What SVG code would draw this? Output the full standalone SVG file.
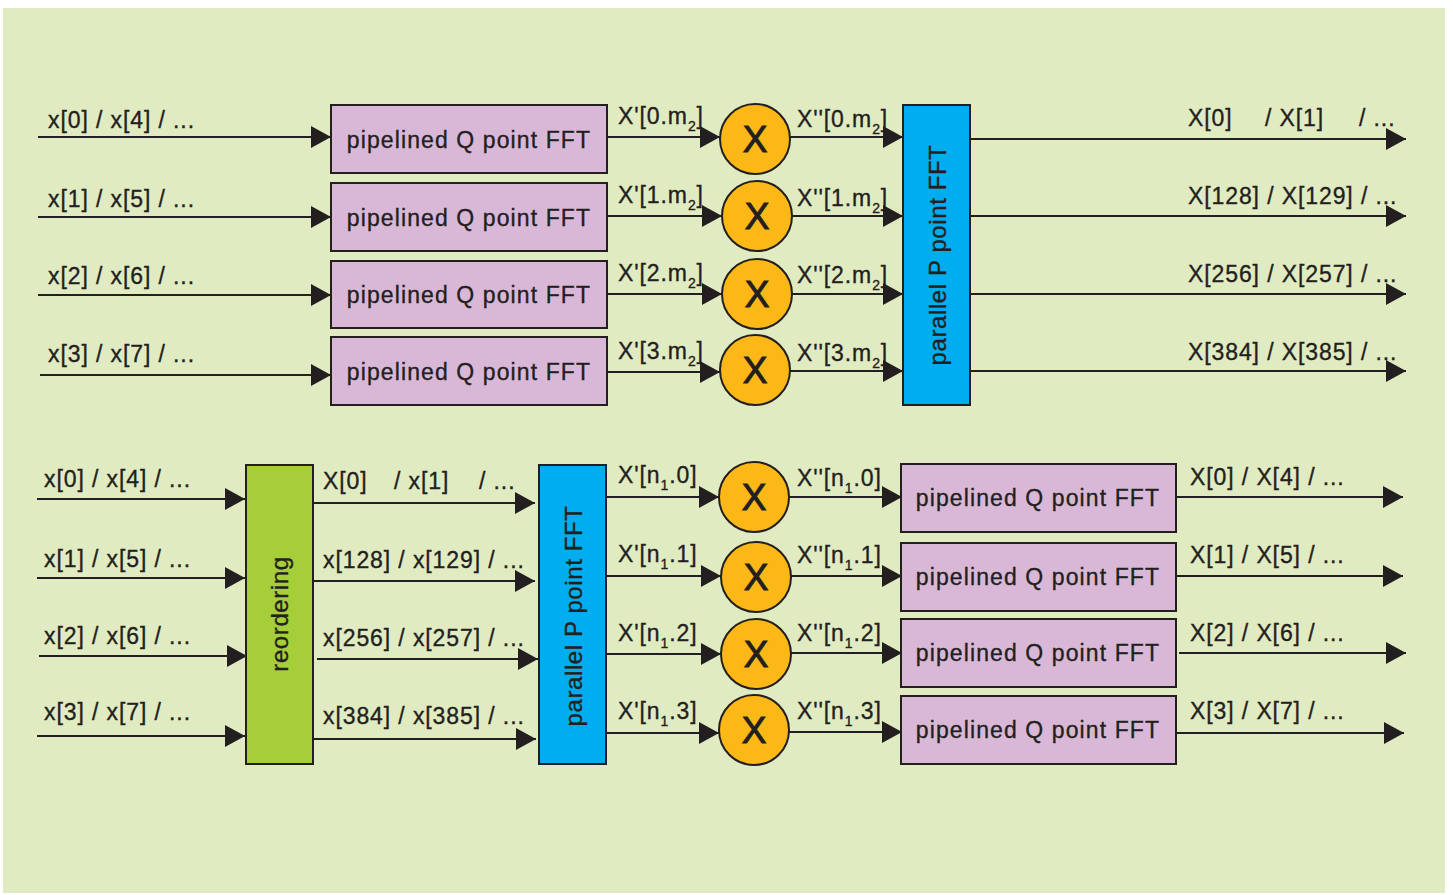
<svg xmlns="http://www.w3.org/2000/svg" width="1453" height="895" viewBox="0 0 1453 895">
<defs>
<marker id="ah" markerUnits="userSpaceOnUse" markerWidth="22" markerHeight="24" refX="20" refY="11" orient="auto">
<path d="M0,0 L20,11 L0,22 Z" fill="#231f20"/>
</marker>
<style>
.ln{stroke:#231f20;stroke-width:2.2;fill:none;marker-end:url(#ah)}
.lb{font-family:"Liberation Sans",Arial,sans-serif;font-size:23px;letter-spacing:0.9px;fill:#231f20;stroke:#231f20;stroke-width:0.35px}
.sub{font-size:14px}
.pk{fill:#d9b8d7;stroke:#231f20;stroke-width:2}
.bl{fill:#00aeef;stroke:#231f20;stroke-width:2}
.gr{fill:#a6ce39;stroke:#231f20;stroke-width:2}
.ci{fill:#fbb817;stroke:#231f20;stroke-width:2}
.bt{font-family:"Liberation Sans",Arial,sans-serif;font-size:23px;letter-spacing:1.1px;fill:#231f20;stroke:#231f20;stroke-width:0.35px;text-anchor:middle}
.vt{font-family:"Liberation Sans",Arial,sans-serif;font-size:24px;letter-spacing:0.6px;fill:#231f20;stroke:#231f20;stroke-width:0.35px;text-anchor:middle}
.xt{font-family:"Liberation Sans",Arial,sans-serif;font-size:37px;fill:#231f20;stroke:#231f20;stroke-width:1px;text-anchor:middle}
</style>
</defs>
<rect x="3" y="8" width="1442" height="885" fill="#e1ebc2"/>

<g id="connectors">
<line class="ln" x1="38" y1="137" x2="331" y2="137"/>
<line class="ln" x1="38" y1="217" x2="331" y2="217"/>
<line class="ln" x1="38" y1="295" x2="331" y2="295"/>
<line class="ln" x1="40" y1="375" x2="331" y2="375"/>
<line class="ln" x1="607" y1="137" x2="720" y2="137"/>
<line class="ln" x1="607" y1="216" x2="722" y2="216"/>
<line class="ln" x1="607" y1="294" x2="722" y2="294"/>
<line class="ln" x1="607" y1="372" x2="720" y2="372"/>
<line class="ln" x1="790" y1="137" x2="903" y2="137"/>
<line class="ln" x1="792" y1="216" x2="903" y2="216"/>
<line class="ln" x1="792" y1="294" x2="903" y2="294"/>
<line class="ln" x1="790" y1="371" x2="903" y2="371"/>
<line class="ln" x1="970" y1="139" x2="1406" y2="139"/>
<line class="ln" x1="970" y1="216" x2="1406" y2="216"/>
<line class="ln" x1="970" y1="294" x2="1406" y2="294"/>
<line class="ln" x1="970" y1="371" x2="1406" y2="371"/>
<line class="ln" x1="37" y1="499" x2="245" y2="499"/>
<line class="ln" x1="37" y1="578" x2="245" y2="578"/>
<line class="ln" x1="39" y1="656" x2="247" y2="656"/>
<line class="ln" x1="37" y1="736" x2="245" y2="736"/>
<line class="ln" x1="313" y1="503" x2="535" y2="503"/>
<line class="ln" x1="313" y1="581" x2="535" y2="581"/>
<line class="ln" x1="317" y1="659" x2="538" y2="659"/>
<line class="ln" x1="313" y1="739" x2="536" y2="739"/>
<line class="ln" x1="606" y1="497" x2="719" y2="497"/>
<line class="ln" x1="606" y1="576" x2="721" y2="576"/>
<line class="ln" x1="606" y1="654" x2="721" y2="654"/>
<line class="ln" x1="606" y1="733" x2="719" y2="733"/>
<line class="ln" x1="789" y1="497" x2="902" y2="497"/>
<line class="ln" x1="791" y1="576" x2="902" y2="576"/>
<line class="ln" x1="791" y1="653" x2="902" y2="653"/>
<line class="ln" x1="789" y1="732" x2="902" y2="732"/>
<line class="ln" x1="1176" y1="497" x2="1403" y2="497"/>
<line class="ln" x1="1176" y1="576" x2="1403" y2="576"/>
<line class="ln" x1="1179" y1="653" x2="1406" y2="653"/>
<line class="ln" x1="1176" y1="733" x2="1404" y2="733"/>
</g>

<g id="labels">
<text class="lb" x="48" y="128">x[0] / x[4] / ...</text>
<text class="lb" x="48" y="207">x[1] / x[5] / ...</text>
<text class="lb" x="48" y="284">x[2] / x[6] / ...</text>
<text class="lb" x="48" y="362">x[3] / x[7] / ...</text>

<text class="lb" x="618" y="124">X'[0.m<tspan class="sub" dy="7">2</tspan><tspan dy="-7">]</tspan></text>
<text class="lb" x="618" y="203">X'[1.m<tspan class="sub" dy="7">2</tspan><tspan dy="-7">]</tspan></text>
<text class="lb" x="618" y="281">X'[2.m<tspan class="sub" dy="7">2</tspan><tspan dy="-7">]</tspan></text>
<text class="lb" x="618" y="359">X'[3.m<tspan class="sub" dy="7">2</tspan><tspan dy="-7">]</tspan></text>

<text class="lb" x="797" y="127">X''[0.m<tspan class="sub" dy="7">2</tspan><tspan dy="-7">]</tspan></text>
<text class="lb" x="797" y="206">X''[1.m<tspan class="sub" dy="7">2</tspan><tspan dy="-7">]</tspan></text>
<text class="lb" x="797" y="283">X''[2.m<tspan class="sub" dy="7">2</tspan><tspan dy="-7">]</tspan></text>
<text class="lb" x="797" y="361">X''[3.m<tspan class="sub" dy="7">2</tspan><tspan dy="-7">]</tspan></text>

<text class="lb" x="1188" y="126">X[0]</text>
<text class="lb" x="1265" y="126">/ X[1]</text>
<text class="lb" x="1359" y="126">/ ...</text>
<text class="lb" x="1188" y="204">X[128] / X[129] / ...</text>
<text class="lb" x="1188" y="282">X[256] / X[257] / ...</text>
<text class="lb" x="1188" y="360">X[384] / X[385] / ...</text>

<text class="lb" x="44" y="487">x[0] / x[4] / ...</text>
<text class="lb" x="44" y="567">x[1] / x[5] / ...</text>
<text class="lb" x="44" y="644">x[2] / x[6] / ...</text>
<text class="lb" x="44" y="720">x[3] / x[7] / ...</text>

<text class="lb" x="323" y="489">X[0]</text>
<text class="lb" x="394" y="489">/ x[1]</text>
<text class="lb" x="479" y="489">/ ...</text>
<text class="lb" x="323" y="568">x[128] / x[129] / ...</text>
<text class="lb" x="323" y="646">x[256] / x[257] / ...</text>
<text class="lb" x="323" y="724">x[384] / x[385] / ...</text>

<text class="lb" x="618" y="483">X'[n<tspan class="sub" dy="7">1</tspan><tspan dy="-7">.0]</tspan></text>
<text class="lb" x="618" y="562">X'[n<tspan class="sub" dy="7">1</tspan><tspan dy="-7">.1]</tspan></text>
<text class="lb" x="618" y="641">X'[n<tspan class="sub" dy="7">1</tspan><tspan dy="-7">.2]</tspan></text>
<text class="lb" x="618" y="719">X'[n<tspan class="sub" dy="7">1</tspan><tspan dy="-7">.3]</tspan></text>

<text class="lb" x="797" y="486">X''[n<tspan class="sub" dy="7">1</tspan><tspan dy="-7">.0]</tspan></text>
<text class="lb" x="797" y="563">X''[n<tspan class="sub" dy="7">1</tspan><tspan dy="-7">.1]</tspan></text>
<text class="lb" x="797" y="641">X''[n<tspan class="sub" dy="7">1</tspan><tspan dy="-7">.2]</tspan></text>
<text class="lb" x="797" y="719">X''[n<tspan class="sub" dy="7">1</tspan><tspan dy="-7">.3]</tspan></text>

<text class="lb" x="1190" y="485">X[0] / X[4] / ...</text>
<text class="lb" x="1190" y="563">X[1] / X[5] / ...</text>
<text class="lb" x="1190" y="641">X[2] / X[6] / ...</text>
<text class="lb" x="1190" y="719">X[3] / X[7] / ...</text>
</g>

<g id="fftq-top-0"><rect class="pk" x="331" y="105" width="276" height="68"/><text class="bt" x="469" y="148">pipelined Q point FFT</text></g>
<g id="fftq-top-1"><rect class="pk" x="331" y="183" width="276" height="68"/><text class="bt" x="469" y="226">pipelined Q point FFT</text></g>
<g id="fftq-top-2"><rect class="pk" x="331" y="261" width="276" height="67"/><text class="bt" x="469" y="303">pipelined Q point FFT</text></g>
<g id="fftq-top-3"><rect class="pk" x="331" y="337" width="276" height="68"/><text class="bt" x="469" y="380">pipelined Q point FFT</text></g>

<g id="mul-top-0"><circle class="ci" cx="755" cy="139" r="35"/><text class="xt" x="755" y="152">X</text></g>
<g id="mul-top-1"><circle class="ci" cx="757" cy="216" r="35"/><text class="xt" x="757" y="229">X</text></g>
<g id="mul-top-2"><circle class="ci" cx="757" cy="294" r="35"/><text class="xt" x="757" y="307">X</text></g>
<g id="mul-top-3"><circle class="ci" cx="755" cy="370" r="35"/><text class="xt" x="755" y="383">X</text></g>

<g id="fftp-top"><rect class="bl" x="903" y="105" width="67" height="300"/><text class="vt" transform="translate(946,255) rotate(-90)">parallel P point FFT</text></g>

<g id="reordering"><rect class="gr" x="246" y="465" width="67" height="299"/><text class="vt" transform="translate(288,614) rotate(-90)">reordering</text></g>

<g id="fftp-bottom"><rect class="bl" x="539" y="465" width="67" height="299"/><text class="vt" transform="translate(582,616) rotate(-90)">parallel P point FFT</text></g>

<g id="mul-bot-0"><circle class="ci" cx="754" cy="497" r="35"/><text class="xt" x="754" y="510">X</text></g>
<g id="mul-bot-1"><circle class="ci" cx="756" cy="577" r="35"/><text class="xt" x="756" y="590">X</text></g>
<g id="mul-bot-2"><circle class="ci" cx="756" cy="654" r="35"/><text class="xt" x="756" y="667">X</text></g>
<g id="mul-bot-3"><circle class="ci" cx="754" cy="730" r="35"/><text class="xt" x="754" y="743">X</text></g>

<g id="fftq-bot-0"><rect class="pk" x="901" y="464" width="275" height="68"/><text class="bt" x="1038" y="506">pipelined Q point FFT</text></g>
<g id="fftq-bot-1"><rect class="pk" x="901" y="543" width="275" height="68"/><text class="bt" x="1038" y="585">pipelined Q point FFT</text></g>
<g id="fftq-bot-2"><rect class="pk" x="901" y="619" width="275" height="68"/><text class="bt" x="1038" y="661">pipelined Q point FFT</text></g>
<g id="fftq-bot-3"><rect class="pk" x="901" y="696" width="275" height="68"/><text class="bt" x="1038" y="738">pipelined Q point FFT</text></g>
</svg>
